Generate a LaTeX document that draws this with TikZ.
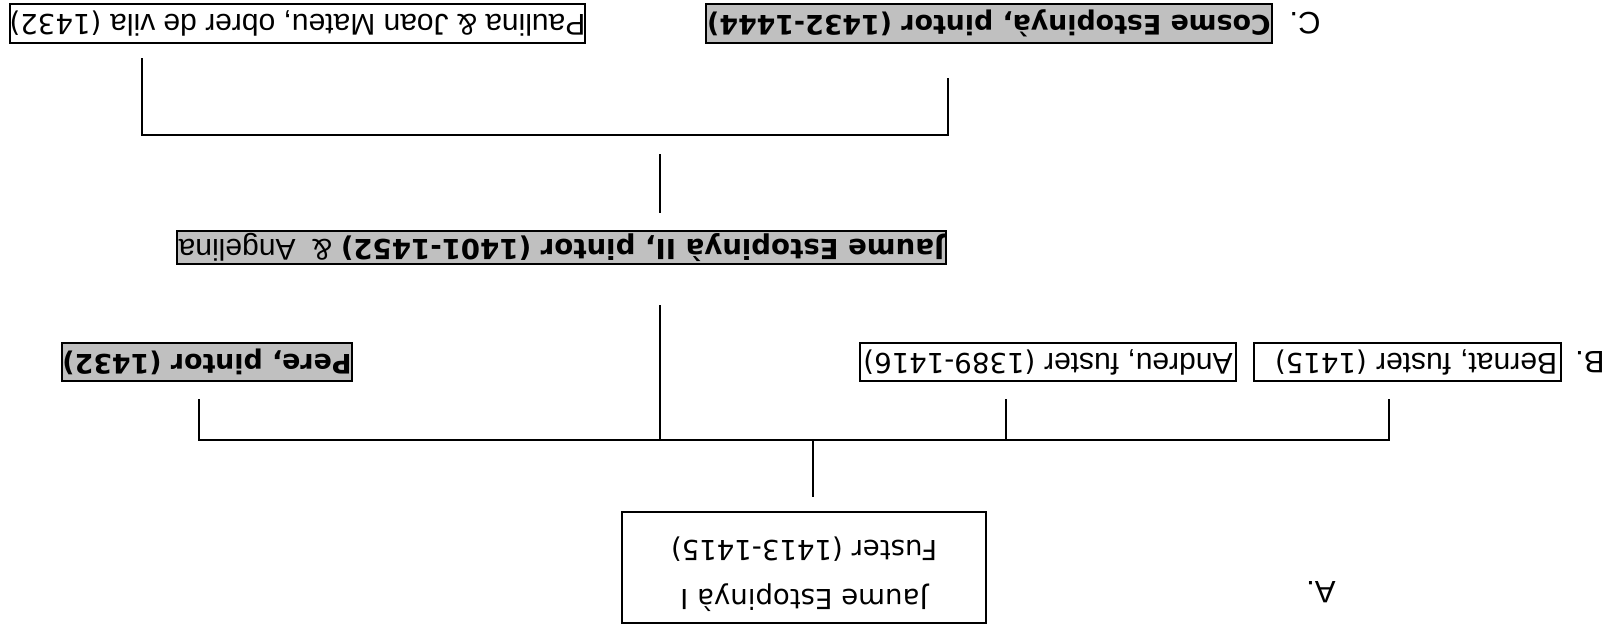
\documentclass[tikz,border=0pt]{standalone}
\usepackage{fontspec}
\setmainfont{DejaVu Sans}
\newfontfamily\arialfont{Liberation Sans}
\usetikzlibrary{positioning}
\definecolor{silver}{RGB}{192,192,192}
\newcommand{\arialtxt}[1]{{\arialfont\fontsize{15}{16}\selectfont #1}}

\begin{document}
\begin{tikzpicture}[x=0.5pt, y=-0.5pt,
        box/.style={draw, line width=1pt, rotate=180, inner sep=0pt, align=center, font=\fontsize{13.8}{16}\selectfont},
        named/.style={box, fill=silver, font=\bfseries\fontsize{13.4}{16}\selectfont},
        tag/.style={rotate=180, inner sep=0pt, font=\arialfont\fontsize{15.5}{18}\selectfont},
        link/.style={line width=1pt}
    ]
        \useasboundingbox (0,0) rectangle (1614,632);

        \node[box, minimum width=287.5pt, minimum height=19.5pt] (paulina) at (297.5,23.5) {\arialtxt{Paulina \& Joan Mateu, obrer de vila} (1432)};
        \node[named, minimum width=283pt, minimum height=19.5pt] (cosme) at (989,23.5) {Cosme Estopinyà, pintor (1432-1444)};
        \node[tag] (tagC) at (1305,23) {C.};
        \node[named, minimum width=384.5pt, minimum height=16.5pt, font=\fontsize{13.8}{16}\selectfont] (jaumeII) at (561.5,247.5) {\textbf{Jaume Estopinyà II, pintor (1401-1452)} \arialtxt{\& \ Angelina}};
        \node[named, minimum width=145pt, minimum height=19pt] (pere) at (207,362) {Pere, pintor (1432)};
        \node[box, minimum width=188pt, minimum height=19pt] (andreu) at (1048,362) {\arialtxt{Andreu, fuster} (1389-1416)};
        \node[box, text width=149.5pt, inner xsep=2pt, minimum height=19pt, align=left] (bernat) at (1407.5,362) {\arialtxt{Bernat, fuster} (1415)};
        \node[tag] (tagB) at (1590,362) {B.};
        \node[box, minimum width=182pt, minimum height=55.5pt, text depth=8.5pt, font=\fontsize{13.8}{24.5}\selectfont] (jaumeI) at (804,567.5) {Jaume Estopinyà I\\Fuster (1413-1415)};
        \node[tag] (tagA) at (1321,592) {A.};

        % fork above Jaume II
        \coordinate (paulina-foot) at (142,58);
        \coordinate (cosme-foot) at (948,78);
        \coordinate (top-left) at (142,135);
        \coordinate (top-right) at (948,135);
        \coordinate (top-stem) at (660,154);
        \coordinate (jII-head) at (660,213);
        \draw[link] (paulina-foot) -- (top-left) -- (top-right) -- (cosme-foot);
        \draw[link] (top-stem) -- (jII-head);

        % fork above Jaume I
        \coordinate (jII-foot) at (660,305);
        \coordinate (fork-mid) at (660,440);
        \coordinate (pere-foot) at (199,399);
        \coordinate (fork-left) at (199,440);
        \coordinate (andreu-foot) at (1006,399);
        \coordinate (fork-andreu) at (1006,440);
        \coordinate (bernat-foot) at (1389,399);
        \coordinate (fork-right) at (1389,440);
        \coordinate (fork-stem) at (813,440);
        \coordinate (jI-head) at (813,497);
        \draw[link] (pere-foot) -- (fork-left) -- (fork-right) -- (bernat-foot);
        \draw[link] (jII-foot) -- (fork-mid);
        \draw[link] (andreu-foot) -- (fork-andreu);
        \draw[link] (fork-stem) -- (jI-head);
    \end{tikzpicture}
\end{document}
